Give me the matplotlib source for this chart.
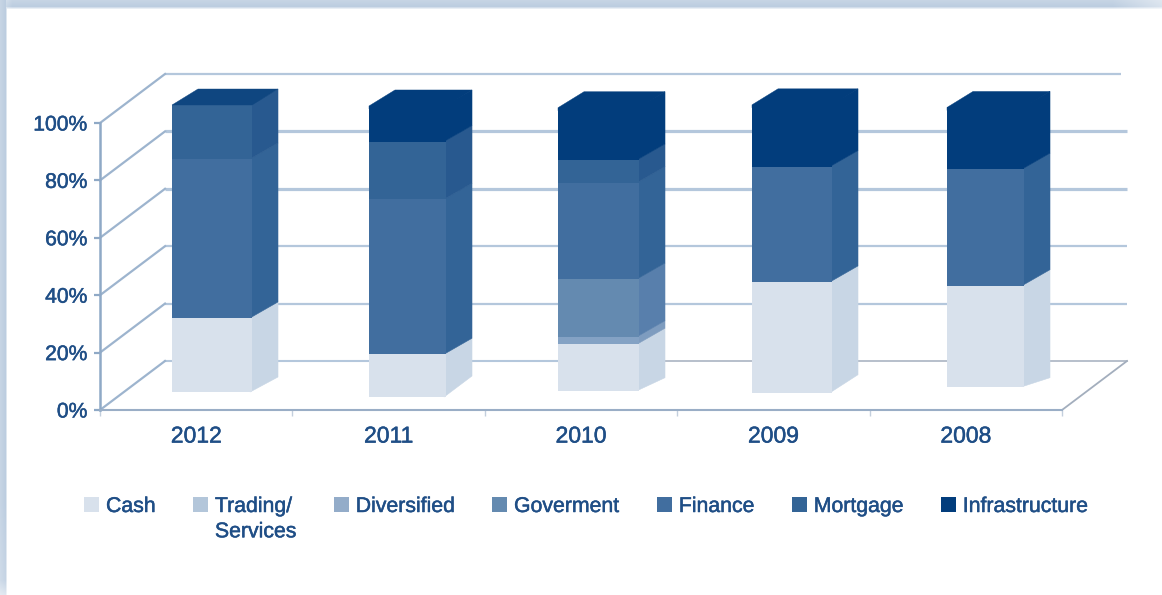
from matplotlib import pyplot as plt
from matplotlib.colors import to_rgb
from matplotlib.patches import Patch, Polygon
from matplotlib import patheffects
import numpy as np

years = ["2012", "2011", "2010", "2009", "2008"]
percent_ticks = [0, 20, 40, 60, 80, 100]

# segment heights on the percent axis, bottom to top of each stack
cash = [25.8, 14.9, 16.2, 38.6, 35.2]
trading = [0, 0, 0, 0, 0]
diversified = [0, 0, 2.6, 0, 0]
government = [0, 0, 20.1, 0, 0]
finance = [55.4, 54.0, 33.6, 40.2, 40.6]
mortgage = [18.8, 20.1, 7.9, 0, 0]
infrastructure = [0, 12.4, 18.2, 21.5, 21.5]

labels = ["Cash", "Trading/\nServices", "Diversified", "Goverment", "Finance", "Mortgage", "Infrastructure"]
stacks = [cash, trading, diversified, government, finance, mortgage, infrastructure]

front_colors = ["#d8e1ec", "#b3c6da", "#84a2c4", "#648ab0", "#416e9f", "#336496", "#023d7c"]
side_colors = ["#c8d6e5", "#a5bad2", "#7e9cbf", "#587fac", "#336497", "#28598f", "#023d7c"]
legend_colors = ["#d8e1ec", "#b3c6da", "#93acc9", "#648ab0", "#416e9f", "#336496", "#023d7c"]

TEXT = "#1f4e86"
AXIS = "#8fa9c6"
GRID = "#b4c7dc"
FLOOR = "#a3aebd"

W, H = 1162, 595
LEFT, RIGHT, Y0, Y100 = 100, 1062, 410, 123
PX_X = (RIGHT - LEFT) / 5.0
PX_Y = (Y0 - Y100) / 100.0

# the bars do not sit evenly in their slots in the original, pixels from slot centre
bar_left = [-24.2, -19.6, -23.0, -21.4, -18.8]
bar_width = [80, 77, 81, 80, 77]
bar_lift = [18, 13, 19.3, 17.3, 23.3]
bottom_rise = [15, 21, 13, 18, 9]

plt.rcParams["font.family"] = ["Liberation Sans", "DejaVu Sans"]

fig = plt.figure(figsize=(W / 100, H / 100), dpi=100, facecolor="white")

# soft frame along the top and left edge of the picture
xx, yy = np.meshgrid(np.arange(W), np.arange(H))
top_band = np.interp(yy, [0, 6, 9], [0.85, 1, 0]) * np.interp(xx, [0, 12, W - 50, W], [0.6, 1, 1, 0.55])
left_band = np.interp(xx, [0, 5, 7], [0.85, 1, 0]) * np.interp(yy, [0, 500, 580, H], [1, 1, 0.85, 0.45])
strength = np.maximum(top_band, left_band)[..., None]
frame = 1 - strength * (1 - np.array(to_rgb("#bccde0")))
bg = fig.add_axes([0, 0, 1, 1], zorder=-1)
bg.imshow(frame, aspect="auto", interpolation="nearest")
bg.axis("off")

ax = fig.add_axes([LEFT / W, (H - Y0) / H, (RIGHT - LEFT) / W, (Y0 - Y100) / H])
ax.set_xlim(-0.5, 4.5)
ax.set_ylim(0, 100)
ax.patch.set_alpha(0)

wall_dx = 65 / PX_X
wall_dy = 49 / PX_Y
for tick in percent_ticks:
    if tick == 0:
        # floor edge goes from blue to grey part way along
        ax.plot([-0.5 + wall_dx, 2.2], [wall_dy, wall_dy], color=GRID, lw=1.5, clip_on=False, zorder=1)
        ax.plot([2.2, 4.5 + wall_dx], [wall_dy, wall_dy], color=FLOOR, lw=1.1, clip_on=False, zorder=1)
    else:
        lw = 2.3 if tick in (60, 80) else 1.6
        ax.plot([-0.5 + wall_dx, 4.5 + wall_dx - (0.03 if tick == 100 else 0)], [tick + wall_dy] * 2,
                color=GRID, lw=lw, clip_on=False, zorder=1, solid_capstyle="butt")
    ax.plot([-0.5, -0.5 + wall_dx], [tick, tick + wall_dy], color="#9db4ce", lw=1.6, clip_on=False, zorder=1)
ax.plot([4.5, 4.5 + wall_dx], [0, wall_dy], color=FLOOR, lw=1.3, clip_on=False, zorder=1)

# bars: front faces are real bars, sides and tops follow from the same stack values
depth_x = 26 / PX_X
depth_y = 16 / PX_Y
for b, year in enumerate(years):
    left = b + bar_left[b] / PX_X
    width = bar_width[b] / PX_X
    right = left + width
    base = bar_lift[b] / PX_Y
    level = base
    for s, series in enumerate(stacks):
        v = series[b]
        if v == 0:
            continue
        low = level + (bottom_rise[b] / PX_Y if level == base else depth_y)
        # start a touch under the front face so no seam shows between them
        side = [(right - 0.01, level), (right + depth_x, low), (right + depth_x, level + v + depth_y),
                (right - 0.01, level + v)]
        ax.add_patch(Polygon(side, closed=True, facecolor=side_colors[s], edgecolor=side_colors[s], lw=0.4,
                             clip_on=False, zorder=3))
        ax.bar(left, v, width=width, bottom=level, align="edge", color=front_colors[s],
               lw=0, clip_on=False, zorder=3.5)
        level += v
    top_color = "#0f4680" if infrastructure[b] == 0 else front_colors[-1]
    overlap = 0 if infrastructure[b] == 0 else 1.0
    top = [(left, level - overlap), (left, level), (left + depth_x, level + depth_y),
           (right + depth_x, level + depth_y), (right, level), (right, level - overlap)]
    ax.add_patch(Polygon(top, closed=True, facecolor=top_color, edgecolor=top_color, lw=0.3,
                         clip_on=False, zorder=4))

for name in ["top", "right"]:
    ax.spines[name].set_visible(False)
ax.spines["left"].set_color(AXIS)
ax.spines["left"].set_linewidth(1.8)
ax.spines["bottom"].set_color("#9aaec6")
ax.spines["bottom"].set_linewidth(1.5)

ax.set_yticks(percent_ticks)
ax.set_yticklabels([f"{t}%" for t in percent_ticks], fontsize=15.2, color=TEXT)
ax.tick_params(axis="y", length=4, width=1.6, color=AXIS, pad=5)
ax.set_xticks(range(len(years)))
ax.set_xticklabels(years, fontsize=16.5, color=TEXT)
ax.tick_params(axis="x", length=0, pad=10.5)
ax.set_xticks(np.arange(-0.5, 5, 1), minor=True)
ax.tick_params(axis="x", which="minor", length=4, width=1, color="#c3cfdd")

handles = [Patch(color=c, lw=0) for c in legend_colors]
fs = 15.3
em = fs * 100 / 72
leg = fig.legend(handles, labels, ncols=7, loc="upper left", bbox_to_anchor=(84 / W, 1 - 497 / H),
                 frameon=False, fontsize=fs, labelcolor=TEXT, borderpad=0, borderaxespad=0,
                 handlelength=15 / em, handleheight=15 / em, handletextpad=7 / em,
                 columnspacing=37.3 / em)
# first line of the two line label has to sit level with the other entries
leg._legend_handle_box.align = "top"
for column in leg._legend_handle_box.get_children():
    column.align = "left"
    for item in column.get_children():
        item.align = "top"
leg.get_texts()[1].set_linespacing(1.42)

# the original text looks a little heavier than the regular weight
heavier = [patheffects.withStroke(linewidth=0.35, foreground=TEXT)]
for t in ax.get_xticklabels() + ax.get_yticklabels() + leg.get_texts():
    t.set_path_effects(heavier)

fig.savefig("out.png", dpi=100)
